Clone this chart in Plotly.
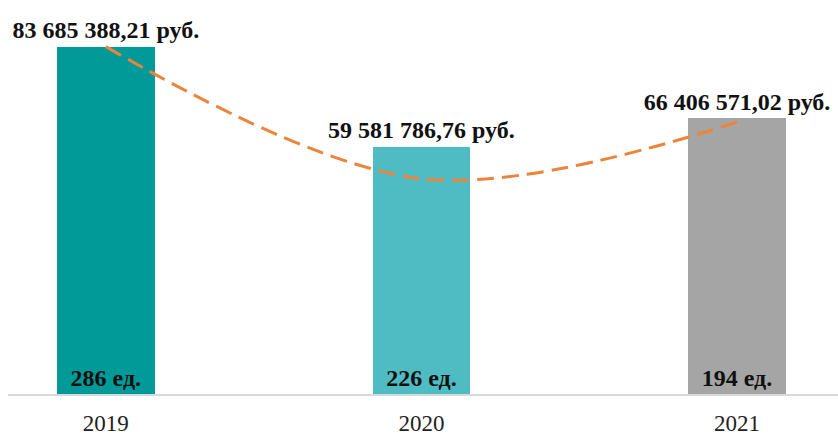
import plotly.graph_objects as go

years = ["2019", "2020", "2021"]
amounts = [83685388.21, 59581786.76, 66406571.02]
amount_labels = ["83 685 388,21 руб.", "59 581 786,76 руб.", "66 406 571,02 руб."]
counts = [286, 226, 194]
count_labels = ["286 ед.", "226 ед.", "194 ед."]
trend_values = [83685388.21, 51900000, 65500000]
bar_colors = ["#019a98", "#4ebcc2", "#a5a5a5"]

FONT = "Liberation Serif"

fig = go.Figure()
fig.add_trace(go.Bar(
    x=years, y=amounts, width=0.31,
    marker=dict(color=bar_colors, line=dict(width=0)),
    hoverinfo="skip", showlegend=False,
))
fig.add_trace(go.Scatter(
    x=years, y=trend_values, mode="lines",
    line=dict(color="#ec843c", width=3, dash="17px,8px", shape="spline", smoothing=1.0),
    hoverinfo="skip", showlegend=False,
))
# value labels above bars
fig.add_trace(go.Scatter(
    x=years, y=amounts, mode="markers+text",
    marker=dict(size=3, opacity=0),
    text=["<b>%s</b>" % t for t in amount_labels],
    textposition="top center", cliponaxis=False,
    textfont=dict(family=FONT, size=24, color="#111111"),
    hoverinfo="skip", showlegend=False,
))
# count labels at the bottom of bars
fig.add_trace(go.Scatter(
    x=years, y=[0, 0, 0], mode="markers+text",
    marker=dict(size=2, opacity=0),
    text=["<b>%s</b>" % t for t in count_labels],
    textposition="top center", cliponaxis=False,
    textfont=dict(family=FONT, size=24, color="#111111"),
    hoverinfo="skip", showlegend=False,
))

fig.update_layout(
    width=838, height=436,
    margin=dict(l=8, r=0, t=0, b=39),
    plot_bgcolor="white", paper_bgcolor="white",
    bargap=0,
    xaxis=dict(type="category", range=[-0.31, 2.32], showgrid=False,
               showline=True, linecolor="#d9d9d9", linewidth=1.5,
               ticks="", ticklabelstandoff=8,
               tickfont=dict(family=FONT, size=23, color="#222222"),
               fixedrange=True),
    yaxis=dict(range=[0, 94930000], visible=False, showgrid=False, fixedrange=True),
)

fig.write_html("out.html", config={"displayModeBar": False},
               post_script="document.body.style.margin='0';")
